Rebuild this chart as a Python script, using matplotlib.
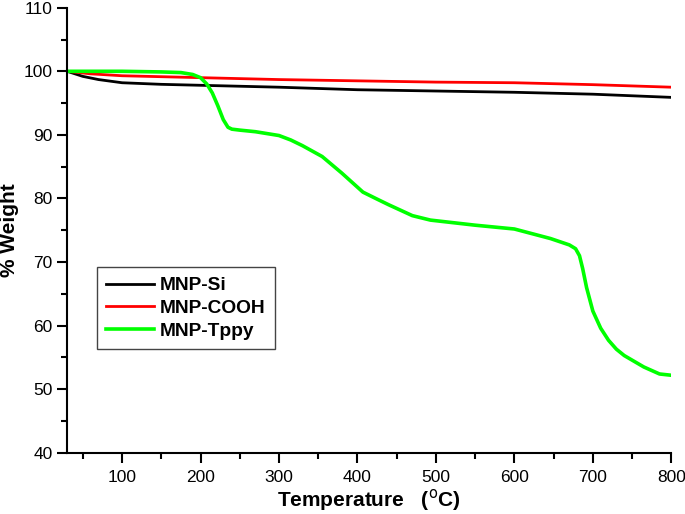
import matplotlib
matplotlib.use("Agg")
import matplotlib.pyplot as plt
from matplotlib.ticker import MultipleLocator

plt.rcParams['font.family'] = ['Liberation Sans', 'DejaVu Sans']

# TGA curves
si_temp = [30, 50, 70, 100, 150, 200, 300, 400, 500, 600, 700, 800]
si_weight = [100.0, 99.2, 98.7, 98.2, 97.95, 97.8, 97.5, 97.1, 96.9, 96.7, 96.4, 95.9]

cooh_temp = [30, 60, 100, 200, 300, 400, 500, 600, 700, 800]
cooh_weight = [100.0, 99.6, 99.3, 99.0, 98.7, 98.5, 98.3, 98.2, 97.9, 97.5]

tppy_temp = [30, 100, 150, 175, 190, 200, 208, 215, 222, 229, 235, 240, 250,
             270, 300, 315, 330, 355, 380, 407, 425, 440, 470, 493, 550, 600,
             646, 670, 678, 683, 687, 692, 700, 710, 720, 730, 740, 765, 785, 800]
tppy_weight = [100.0, 100.0, 99.9, 99.8, 99.5, 99.0, 98.0, 96.6, 94.6, 92.4,
               91.2, 90.9, 90.75, 90.5, 89.9, 89.2, 88.3, 86.6, 84.0, 81.0,
               79.9, 79.0, 77.3, 76.6, 75.8, 75.2, 73.7, 72.7, 72.1, 71.0,
               69.0, 66.0, 62.3, 59.6, 57.7, 56.3, 55.3, 53.5, 52.4, 52.2]

fig = plt.figure(figsize=(6.85, 5.14), dpi=100)
ax = fig.add_axes([0.098, 0.119, 0.882, 0.866])

ax.plot(si_temp, si_weight, color='black', linewidth=2.0, label='MNP-Si')
ax.plot(cooh_temp, cooh_weight, color='#ff0000', linewidth=2.0, label='MNP-COOH')
ax.plot(tppy_temp, tppy_weight, color='#00ff00', linewidth=2.6, label='MNP-Tppy')

ax.set_xlim(30, 800)
ax.set_ylim(40, 110)
ax.xaxis.set_major_locator(MultipleLocator(100))
ax.xaxis.set_minor_locator(MultipleLocator(50))
ax.yaxis.set_major_locator(MultipleLocator(10))
ax.yaxis.set_minor_locator(MultipleLocator(5))

ax.spines['top'].set_visible(False)
ax.spines['right'].set_visible(False)
for s in ['left', 'bottom']:
    ax.spines[s].set_linewidth(1.5)
ax.tick_params(which='major', direction='out', length=7, width=1.5, labelsize=12.5)
ax.tick_params(axis='x', which='major', pad=5)
ax.tick_params(which='minor', direction='out', length=4, width=1.5)

ax.set_xlabel('Temperature   ($^{\\mathrm{o}}$C)', fontsize=15, fontweight='bold', labelpad=2)
ax.set_ylabel('% Weight', fontsize=15, fontweight='bold', labelpad=3)

leg = ax.legend(loc='lower left', bbox_to_anchor=(0.049, 0.233), fancybox=False,
                edgecolor='#444444', framealpha=1, borderpad=0.5, handlelength=2.5,
                handletextpad=0.3, labelspacing=0.27, borderaxespad=0,
                prop={'weight': 'bold', 'size': 13.8})
leg.get_frame().set_linewidth(1.0)

fig.savefig('out.png', dpi=100)
